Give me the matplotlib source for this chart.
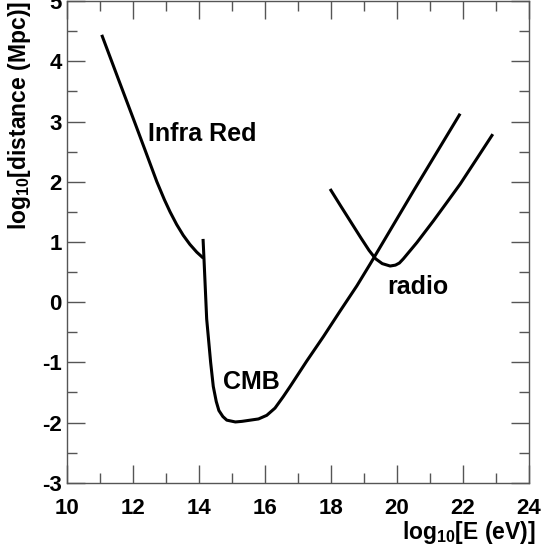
import matplotlib
matplotlib.use("Agg")
import matplotlib.pyplot as plt
from matplotlib.ticker import MultipleLocator

plt.rcParams['font.family'] = ['Liberation Sans', 'DejaVu Sans']
plt.rcParams['font.weight'] = 'bold'
plt.rcParams['axes.unicode_minus'] = False
plt.rcParams['mathtext.fontset'] = 'custom'
plt.rcParams['mathtext.rm'] = 'Liberation Sans:bold'

# log10(E/eV) vs log10(distance/Mpc)
ir_x = [11.05, 11.55, 12.06, 12.36, 12.72, 12.95, 13.12, 13.32, 13.52, 13.72, 13.93, 14.13]
ir_y = [4.44, 3.71, 2.97, 2.53, 2.00, 1.70, 1.50, 1.29, 1.11, 0.96, 0.83, 0.73]

cmb_x = [14.12, 14.15, 14.23, 14.35, 14.43, 14.52, 14.60, 14.72, 14.84, 15.10,
         15.30, 15.55, 15.80, 16.05, 16.30, 16.55, 16.76, 17.26, 17.77, 18.27,
         18.78, 19.18, 20.50, 21.91]
cmb_y = [1.05, 0.70, -0.28, -1.00, -1.40, -1.65, -1.80, -1.90, -1.96, -1.99,
         -1.98, -1.96, -1.94, -1.88, -1.76, -1.57, -1.40, -0.98, -0.57, -0.15,
         0.27, 0.63, 1.85, 3.13]

radio_x = [17.97, 18.30, 18.60, 18.90, 19.15, 19.35, 19.55, 19.79, 19.95, 20.07,
           20.19, 20.60, 21.10, 21.50, 21.91, 22.40, 22.90]
radio_y = [1.88, 1.59, 1.33, 1.07, 0.86, 0.72, 0.64, 0.60, 0.615, 0.65,
           0.72, 0.99, 1.35, 1.65, 1.96, 2.37, 2.79]

fig = plt.figure(figsize=(5.41, 5.53), dpi=100)
ax = fig.add_axes([0.124, 0.127, 0.854, 0.871])

for xs, ys in [(ir_x, ir_y), (cmb_x, cmb_y), (radio_x, radio_y)]:
    ax.plot(xs, ys, color='black', lw=2.2, solid_joinstyle='round', solid_capstyle='butt')

ax.text(12.45, 2.8, 'Infra Red', fontsize=18, fontweight='bold', va='center')
ax.text(14.72, -1.33, 'CMB', fontsize=18, fontweight='bold', va='center')
ax.text(19.7, 0.25, 'radio', fontsize=18, fontweight='bold', va='center')

ax.set_xlim(10, 24)
ax.set_ylim(-3, 5)
ax.xaxis.set_major_locator(MultipleLocator(2))
ax.xaxis.set_minor_locator(MultipleLocator(1))
ax.yaxis.set_major_locator(MultipleLocator(1))
ax.yaxis.set_minor_locator(MultipleLocator(0.5))
ax.tick_params(which='both', direction='in', top=True, right=True, color='#555555',
               labelsize=16)
ax.tick_params(axis='x', pad=11)
ax.tick_params(axis='y', pad=4)
ax.tick_params(which='major', length=13, width=1)
ax.tick_params(which='minor', length=7, width=1)
for s in ax.spines.values():
    s.set_color('#555555')
    s.set_linewidth(1)

ax.set_xlabel(r'log$_{10}$[E (eV)]', fontsize=16.5, fontweight='bold', loc='right', labelpad=0)
ax.set_ylabel(r'log$_{10}$[distance (Mpc)]', fontsize=16.5, fontweight='bold', loc='top', labelpad=6)
ax.xaxis.set_label_coords(1.015, -0.075, transform=ax.transAxes)

fig.savefig('out.png', dpi=100)
